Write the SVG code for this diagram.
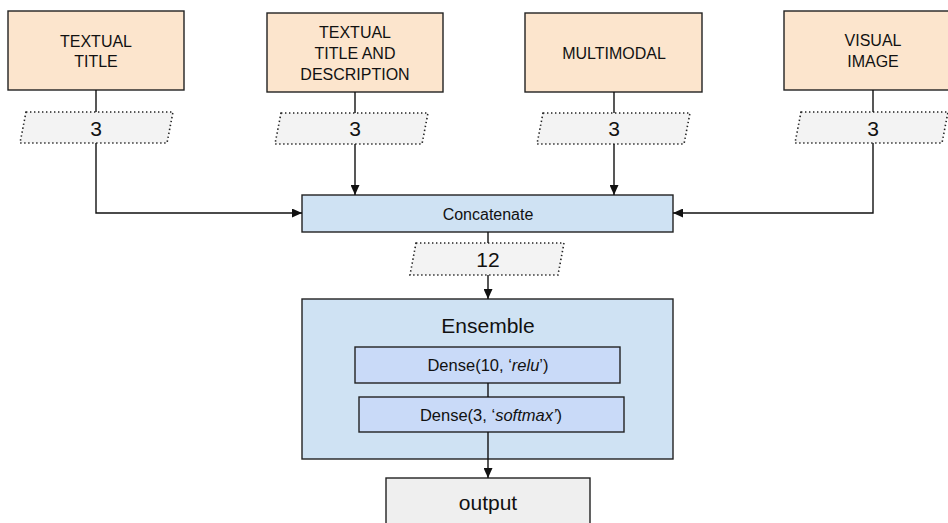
<svg xmlns="http://www.w3.org/2000/svg" width="948" height="523" viewBox="0 0 948 523">
<style>
  text { font-family: "Liberation Sans", Arial, sans-serif; fill: #111; text-anchor: middle; }
  .src rect { fill: #fce5cd; stroke: #222; stroke-width: 1.4; }
  .src text { font-size: 16px; }
  .para polygon { fill: #f3f3f3; stroke: #222; stroke-width: 1.6; stroke-dasharray: 1.4 2.6; }
  .para text { font-size: 21px; }
  .blue { fill: #cfe2f3; stroke: #222; stroke-width: 1.4; }
  .dense { fill: #c9daf8; stroke: #222; stroke-width: 1.4; }
  .out { fill: #efefef; stroke: #222; stroke-width: 1.4; }
  .conn path { fill: none; stroke: #111; stroke-width: 1.4; }
</style>
<defs>
  <marker id="arr" markerUnits="userSpaceOnUse" markerWidth="10" markerHeight="9" refX="10" refY="4.5" orient="auto">
    <path d="M0,0 L10,4.5 L0,9 z" fill="#111"/>
  </marker>
</defs>
<rect width="948" height="523" fill="#fff"/>

<g id="textual-title" class="src">
  <rect x="8" y="11" width="176" height="79"/>
  <text x="96" y="47">TEXTUAL</text>
  <text x="96" y="67">TITLE</text>
</g>
<g id="textual-title-desc" class="src">
  <rect x="267" y="13" width="176" height="79"/>
  <text x="355" y="38">TEXTUAL</text>
  <text x="355" y="59">TITLE AND</text>
  <text x="355" y="80">DESCRIPTION</text>
</g>
<g id="multimodal" class="src">
  <rect x="525" y="13" width="177" height="79"/>
  <text x="614" y="59">MULTIMODAL</text>
</g>
<g id="visual-image" class="src">
  <rect x="784" y="11" width="178" height="79"/>
  <text x="873" y="46">VISUAL</text>
  <text x="873" y="67">IMAGE</text>
</g>

<g id="dim1" class="para">
  <polygon points="26,112 173,112 167,143 20,143"/>
  <text x="96" y="136">3</text>
</g>
<g id="dim2" class="para">
  <polygon points="281,113 428,113 422,144 275,144"/>
  <text x="355" y="136">3</text>
</g>
<g id="dim3" class="para">
  <polygon points="543,113 690,113 684,144 537,144"/>
  <text x="614" y="136">3</text>
</g>
<g id="dim4" class="para">
  <polygon points="801,112 948,112 942,143 795,143"/>
  <text x="873" y="136">3</text>
</g>

<g id="concatenate">
  <rect class="blue" x="302" y="195" width="371" height="37"/>
  <text x="488" y="220" font-size="16">Concatenate</text>
</g>
<g id="dim12" class="para">
  <polygon points="416,243 564,243 558,275 410,275"/>
  <text x="488" y="267">12</text>
</g>

<g id="ensemble">
  <rect class="blue" x="302" y="299" width="371" height="160"/>
  <text x="488" y="333" font-size="21">Ensemble</text>
</g>
<g id="dense10">
  <rect class="dense" x="355" y="347" width="265" height="36"/>
  <text x="488" y="371" font-size="16.5">Dense(10, ‘<tspan font-style="italic">relu</tspan>’)</text>
</g>
<g id="dense3">
  <rect class="dense" x="359" y="397" width="265" height="35"/>
  <text x="491" y="421" font-size="16.5">Dense(3, ‘<tspan font-style="italic">softmax’</tspan>)</text>
</g>
<g id="output">
  <rect class="out" x="386" y="478" width="204" height="60"/>
  <text x="488" y="510" font-size="21">output</text>
</g>

<g id="connectors" class="conn">
  <path d="M96,90 V112"/>
  <path d="M96,143 V213 H302" marker-end="url(#arr)"/>
  <path d="M355,92 V113"/>
  <path d="M355,144 V195" marker-end="url(#arr)"/>
  <path d="M614,92 V113"/>
  <path d="M614,144 V195" marker-end="url(#arr)"/>
  <path d="M873,90 V112"/>
  <path d="M873,143 V213 H673" marker-end="url(#arr)"/>
  <path d="M488,232 V243"/>
  <path d="M488,275 V299" marker-end="url(#arr)"/>
  <path d="M488,383 V397"/>
  <path d="M488,432 V478" marker-end="url(#arr)"/>
</g>
</svg>
